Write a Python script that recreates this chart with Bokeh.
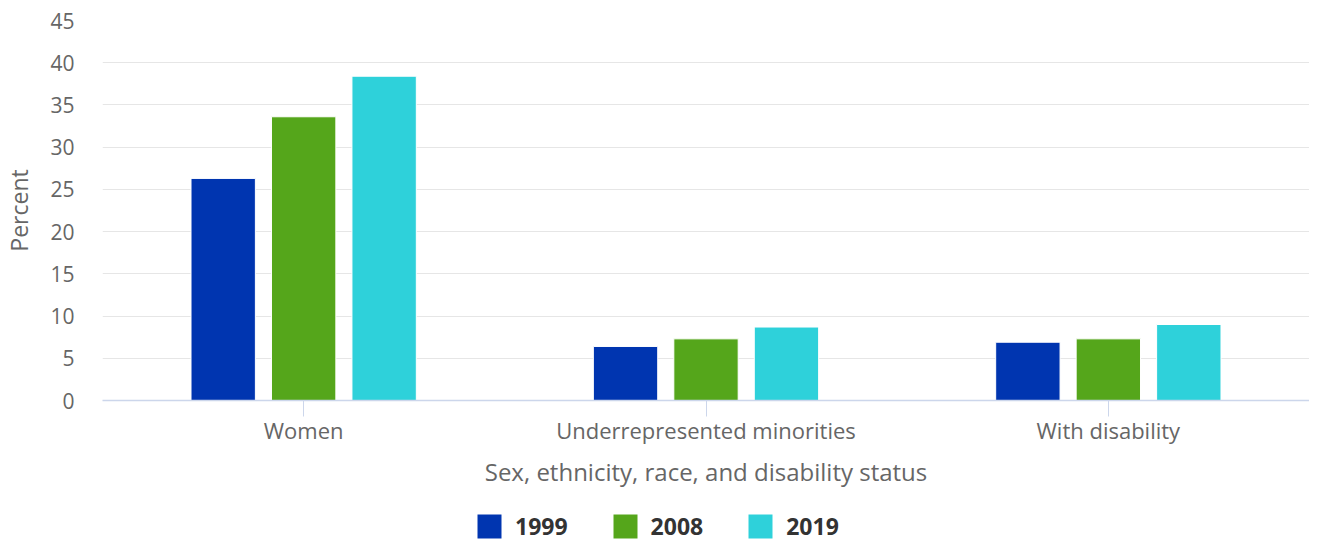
from bokeh.plotting import figure
from bokeh.layouts import column
from bokeh.models import FactorRange, Range1d, Legend, LegendItem, ColumnDataSource, SingleIntervalTicker
from bokeh.transform import dodge
from bokeh.embed import file_html
from bokeh.resources import INLINE

categories = ["Women", "Underrepresented minorities", "With disability"]
years = ["1999", "2008", "2019"]
v1999 = [26.3, 6.4, 6.9]
v2008 = [33.6, 7.3, 7.3]
v2019 = [38.4, 8.7, 9.0]
colors = ["#0035b0", "#55a61b", "#2ed1da"]

src = ColumnDataSource(dict(cat=categories, y1999=v1999, y2008=v2008, y2019=v2019))

FONT = "Open Sans"
p = figure(x_range=FactorRange(*categories), y_range=Range1d(0, 45),
           width=1309, height=496, output_backend="svg", toolbar_location=None,
           min_border_left=90, min_border_right=0, min_border_top=20, min_border_bottom=96)
p.outline_line_color = None
p.background_fill_color = "white"
p.border_fill_color = "white"

for yr, off, col in zip(years, [-0.2, 0.0, 0.2], colors):
    p.vbar(x=dodge("cat", off, range=p.x_range), top="y" + yr, width=0.16, source=src,
           fill_color=col, line_color="white", line_width=1)

p.xgrid.grid_line_color = None
p.ygrid.grid_line_color = "#e6e6e6"
p.ygrid.grid_line_width = 1

p.yaxis.ticker = SingleIntervalTicker(interval=5)
p.yaxis.axis_line_color = None
p.yaxis.major_tick_line_color = None
p.yaxis.minor_tick_line_color = None
p.yaxis.major_label_standoff = 22
p.yaxis.major_label_text_font = FONT
p.yaxis.major_label_text_font_size = "21px"
p.yaxis.major_label_text_color = "#666666"
p.yaxis.axis_label = "Percent"
p.yaxis.axis_label_text_font = FONT
p.yaxis.axis_label_text_font_size = "23px"
p.yaxis.axis_label_text_font_style = "normal"
p.yaxis.axis_label_text_color = "#666666"
p.yaxis.axis_label_standoff = 12

p.xaxis.axis_line_color = "#ccd6eb"
p.xaxis.axis_line_width = 1.5
p.xaxis.major_tick_line_color = "#ccd6eb"
p.xaxis.major_tick_out = 16
p.xaxis.major_tick_in = 0
p.xaxis.major_label_standoff = -2
p.xaxis.major_label_text_font = FONT
p.xaxis.major_label_text_font_size = "22px"
p.xaxis.major_label_text_color = "#666666"
p.xaxis.axis_label = "Sex, ethnicity, race, and disability status"
p.xaxis.axis_label_text_font = FONT
p.xaxis.axis_label_text_font_size = "24px"
p.xaxis.axis_label_text_font_style = "normal"
p.xaxis.axis_label_text_color = "#666666"
p.xaxis.axis_label_standoff = 7

# legend strip
lg = figure(width=1309, height=46, output_backend="svg", toolbar_location=None,
            x_range=Range1d(0, 1), y_range=Range1d(0, 1), x_axis_type=None, y_axis_type=None,
            min_border_left=0, min_border_right=0, min_border_top=0, min_border_bottom=0)
lg.outline_line_color = None
lg.xgrid.grid_line_color = None
lg.ygrid.grid_line_color = None
dummies = []
for col in colors:
    dummies.append(lg.vbar(x=[-5], top=[-5], bottom=[-6], width=0.1,
                           fill_color=col, line_color=None))

legend = Legend(items=[LegendItem(label=yr, renderers=[r]) for yr, r in zip(years, dummies)],
                orientation="horizontal", location=(372, 0))
legend.label_text_font = FONT
legend.label_text_font_size = "23px"
legend.label_text_font_style = "bold"
legend.label_text_color = "#333333"
legend.glyph_width = 30
legend.glyph_height = 30
legend.label_standoff = 11
legend.spacing = 42
legend.border_line_color = None
legend.background_fill_alpha = 0
legend.margin = 0
legend.padding = 0
lg.add_layout(legend, "center")

layout = column(p, lg, spacing=0)
open("out.html", "w").write(file_html(layout, INLINE))
